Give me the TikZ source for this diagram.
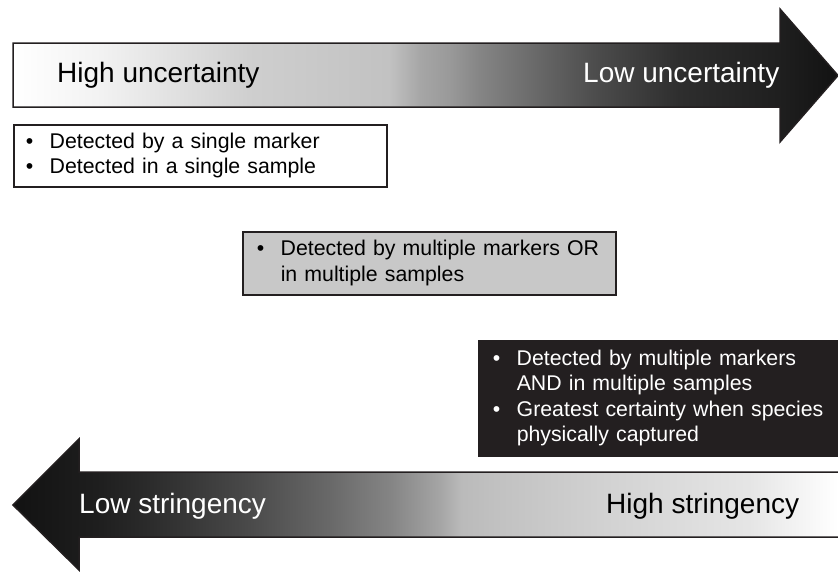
\documentclass[tikz,border=0pt]{standalone}
\usepackage{fontspec}
\setmainfont{Liberation Sans}
\usepackage{tikz}
\usepackage{xcolor}
\definecolor{ink}{HTML}{231F20}
\definecolor{midgray}{HTML}{C8C8C8}
\pgfdeclarehorizontalshading{rising}{100bp}{color(0bp)=(white); color(25bp)=(white); color(30.3bp)=(black!5); color(39.4bp)=(black!19); color(47.8bp)=(black!24); color(49.7bp)=(black!35); color(51.5bp)=(black!40); color(53.3bp)=(black!48); color(57bp)=(black!60); color(60.6bp)=(black!71); color(65.4bp)=(black!82); color(71.5bp)=(black!88); color(75bp)=(black!93); color(100bp)=(black!93)}
\pgfdeclarehorizontalshading{falling}{100bp}{color(0bp)=(black!93); color(25bp)=(black!93); color(30.2bp)=(black!88); color(33.2bp)=(black!83); color(39.2bp)=(black!71); color(44bp)=(black!59); color(47.7bp)=(black!48); color(50.7bp)=(black!35); color(51.9bp)=(black!27); color(54.3bp)=(black!24); color(60.3bp)=(black!18); color(69.3bp)=(black!10); color(74.6bp)=(white); color(100bp)=(white)}
\tikzstyle{bar} = [draw=ink, line width=1.5pt]
\tikzstyle{box} = [draw=ink, line width=1.5pt, anchor=north west, inner xsep=14pt, inner ysep=0pt, align=left, font=\fontsize{21.3}{25.5}\selectfont]
\tikzstyle{lbl} = [anchor=base west, inner sep=0pt, font=\fontsize{28}{32}\selectfont]
\newcommand{\pts}[1]{\begin{tabular}{@{}p{24pt}@{}l@{}}#1\end{tabular}}

\begin{document}
\begin{tikzpicture}[x=1pt,y=-1pt]
    \useasboundingbox (0,0) rectangle (838,571);
    \shadedraw [bar,shading=rising] (13,43) -- (780,43) -- (780,9) -- (838,75.5) -- (780,142) -- (780,107) -- (13,107) -- cycle;
    \node [lbl] (hiunc) at (57,82) {High uncertainty};
    \node [lbl,text=white] (lounc) at (583,82) {Low uncertainty};

    \node [box,fill=white,inner xsep=12pt,text width=349pt,minimum height=62pt] (single) at (13,124)
        {\pts{\textbullet & Detected by a single marker\\ \textbullet & Detected in a single sample}};
    \node [box,fill=midgray,text width=345pt,minimum height=63pt] (either) at (242,231)
        {\pts{\textbullet & Detected by multiple markers OR\\ & in multiple samples}};
    \node [box,fill=ink,text=white,text width=336pt,minimum height=115pt] (both) at (478,340)
        {\pts{\textbullet & Detected by multiple markers\\ & AND in multiple samples\\ \textbullet & Greatest certainty when species\\ & physically captured}};

    \shadedraw [bar,shading=falling] (845,472) -- (79,472) -- (79,439) -- (13,505) -- (79,570) -- (79,537) -- (845,537) -- cycle;
    \node [lbl,text=white] (lostr) at (79,513) {Low stringency};
    \node [lbl] (histr) at (606,513) {High stringency};
\end{tikzpicture}
\end{document}
